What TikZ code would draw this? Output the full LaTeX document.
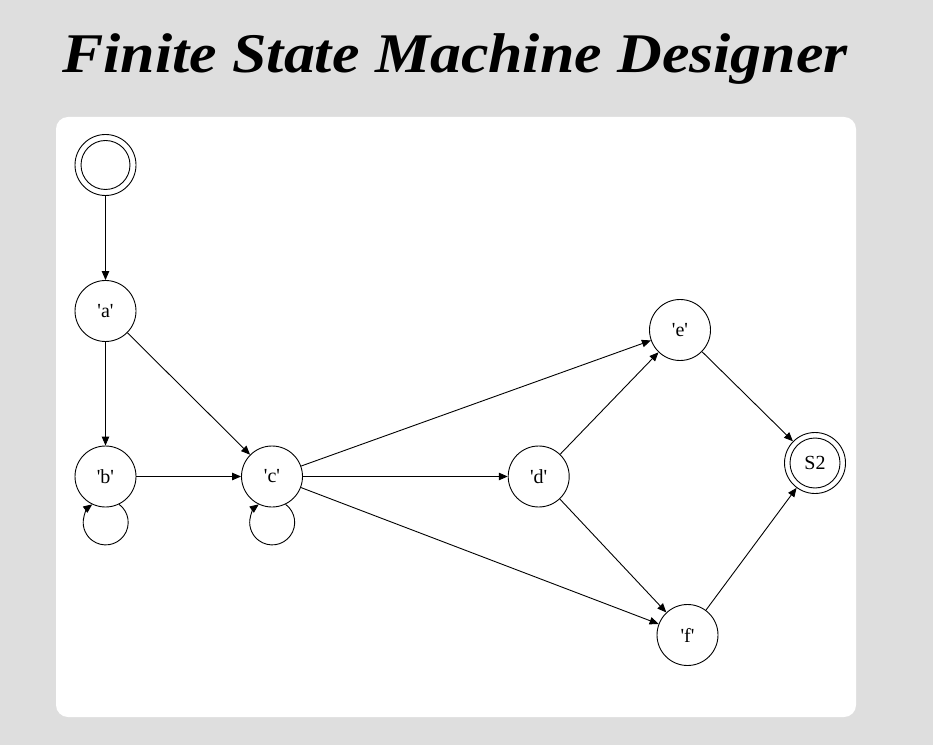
\documentclass[tikz,border=0pt]{standalone}
\usepackage{fontspec}
\setmainfont{Liberation Serif}
\usetikzlibrary{arrows.meta}
\definecolor{pagebg}{HTML}{DEDEDE}
\newcommand{\q}{\textquotesingle}
\begin{document}
\begin{tikzpicture}[x=1pt,y=1pt,
  ring/.style={circle,draw,line width=0.9pt,inner sep=0pt,font=\fontsize{20}{20}\selectfont},
  state/.style={ring,minimum size=61pt},
  arr/.style={line width=0.9pt,-{Triangle[length=9pt,width=7.5pt]}}]
  % canvas and panel
  \fill[pagebg] (0,0) rectangle (933,745);
  \useasboundingbox (0,0) rectangle (933,745);
  \fill[white,rounded corners=12pt] (56,28) rectangle (856,628);
  % heading
  \node[anchor=base,font=\fontsize{56}{56}\selectfont\bfseries\itshape] (title) at (455,672)
    {\scalebox{1.105}[1]{Finite State Machine Designer}};
  % states
  \node[state] (s0) at (105.5,580) {};
  \node[ring,minimum size=49pt] (s0in) at (105.5,580) {};
  \node[state] (a) at (105.5,434) {\q a\q};
  \node[state] (b) at (105.5,268.5) {\q b\q};
  \node[state] (c) at (272,268.5) {\q c\q};
  \node[state] (d) at (538.7,268.5) {\q d\q};
  \node[state] (e) at (680,415) {\q e\q};
  \node[state] (f) at (687.5,110) {\q f\q};
  \node[state] (s2) at (815,282) {S2};
  \node[ring,minimum size=50pt] (s2in) at (815,282) {};
  % transitions
  \draw[arr] (s0) -- (a);
  \draw[arr] (a) -- (b);
  \draw[arr] (a) -- (c);
  \draw[arr] (b) -- (c);
  \draw[arr] (c) -- (e);
  \draw[arr] (c) -- (d);
  \draw[arr] (c) -- (f);
  \draw[arr] (d) -- (e);
  \draw[arr] (d) -- (f);
  \draw[arr] (e) -- (s2);
  \draw[arr] (f) -- (s2);
  % self loops
  \draw[arr] (b.-64) arc[start angle=53.5,end angle=-233.5,radius=22.5];
  \draw[arr] (c.-64) arc[start angle=53.5,end angle=-233.5,radius=22.5];
\end{tikzpicture}
\end{document}
